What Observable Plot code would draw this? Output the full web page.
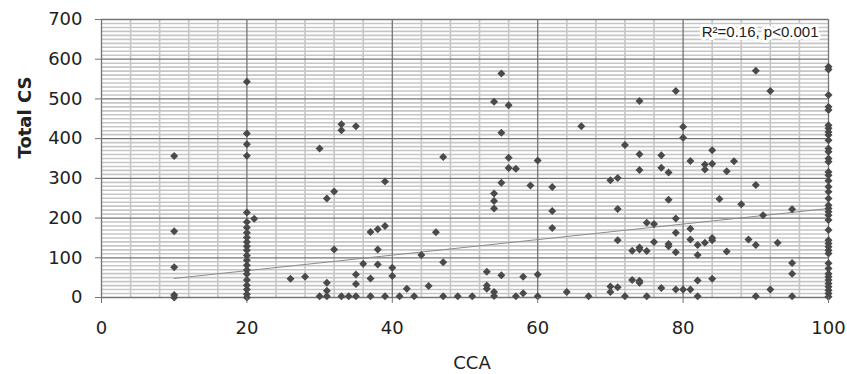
<!DOCTYPE html>
<html><head><meta charset="utf-8">
<script src="https://cdn.jsdelivr.net/npm/d3@7"></script>
<script src="https://cdn.jsdelivr.net/npm/@observablehq/plot@0.6"></script>
<style>
html,body{margin:0;padding:0;background:#fff;}
</style>
</head><body><div id="chart"></div>
<script>
// CCA levels and the Total CS values observed at each level
const ccaLevels = [10, 20, 21, 26, 28, 30, 31, 32, 33, 34, 35, 36, 37, 38, 39, 40, 41, 42, 43, 44, 45, 46, 47, 49, 51, 53, 54, 55, 56, 57, 58, 59, 60, 62, 64, 66, 67, 70, 71, 72, 73, 74, 75, 76, 77, 78, 79, 80, 81, 82, 83, 84, 85, 86, 87, 88, 89, 90, 91, 92, 93, 95, 100];
const totalCSByLevel = [
  [356, 167, 76, 6, 0],
  [543, 413, 386, 357, 214, 190, 176, 163, 151, 140, 129, 119, 106, 94, 81, 69, 59, 44, 31, 20, 8, 0],
  [198],
  [47],
  [52],
  [375, 3],
  [249, 37, 17, 3],
  [267, 121],
  [436, 421, 3],
  [3],
  [431, 58, 34, 3],
  [85],
  [165, 48, 3],
  [172, 121, 83],
  [180, 292, 3],
  [75, 54],
  [3],
  [22],
  [3],
  [107],
  [29],
  [164],
  [354, 89, 3],
  [3],
  [3],
  [65, 30, 22],
  [493, 262, 243, 224, 14, 4],
  [564, 415, 289, 56],
  [484, 352, 326],
  [324, 3],
  [52, 11],
  [282],
  [345, 58, 3],
  [278, 218, 175],
  [14],
  [431],
  [3],
  [295, 28, 14],
  [301, 223, 144, 26],
  [384, 3],
  [118, 44],
  [495, 361, 321, 126, 121, 42, 37],
  [188, 117, 3],
  [185, 140],
  [358, 327, 24],
  [315, 246, 135, 129],
  [520, 199, 163, 114, 20],
  [430, 402, 20],
  [344, 173, 146, 20],
  [132, 107, 43, 3],
  [335, 322, 138],
  [371, 337, 150, 144, 47],
  [248],
  [318, 116],
  [343],
  [235],
  [146],
  [571, 283, 132, 3],
  [207],
  [520, 20],
  [138],
  [222, 87, 60, 3],
  [581, 574, 510, 480, 472, 434, 426, 417, 409, 396, 375, 367, 350, 342, 316, 308, 294, 279, 266, 249, 232, 224, 216, 207, 195, 170, 144, 136, 128, 119, 111, 86, 73, 60, 52, 44, 35, 27, 18, 10, 2]
];
// fitted trend line end points
const fitCCA = [10, 100];
const fitTotalCS = [48, 224];
// axes
const xTicks = [0, 20, 40, 60, 80, 100];
const yTicks = [0, 100, 200, 300, 400, 500, 600, 700];
const xTitle = "CCA";
const yTitle = "Total CS";
const annotation = "R\u00B2=0.16, p<0.001";

const points = ccaLevels.flatMap((c, i) => totalCSByLevel[i].map(v => ({cca: c, cs: v})));
const fit = fitCCA.map((c, i) => ({cca: c, cs: fitTotalCS[i]}));
const minorX = d3.range(0, 101, 4).filter(v => v % 20 !== 0);
const minorY = d3.range(0, 701, 10).filter(v => v % 100 !== 0);

const chart = Plot.plot({
  width: 847, height: 374,
  marginLeft: 101, marginRight: 19, marginTop: 19, marginBottom: 77,
  style: {fontFamily: "DejaVu Sans", fontSize: "18px", color: "#222", background: "#fff"},
  x: {domain: [0, 100]},
  y: {domain: [0, 700]},
  marks: [
    Plot.ruleX(minorX, {stroke: "#c6c6c6", strokeWidth: 1.6}),
    Plot.ruleY(minorY, {stroke: "#c6c6c6", strokeWidth: 1.6}),
    Plot.ruleX(xTicks, {stroke: "#747474", strokeWidth: 1.3}),
    Plot.ruleY(yTicks, {stroke: "#747474", strokeWidth: 1.3}),
    Plot.line(fit, {x: "cca", y: "cs", stroke: "#8c8c8c", strokeWidth: 1}),
    Plot.dot(points, {x: "cca", y: "cs", symbol: "diamond2", r: 3.6, fill: "#4a4a4a", stroke: "none"}),
    Plot.text([annotation], {frameAnchor: "top-right", dx: -10, dy: 13, lineAnchor: "middle", textAnchor: "end",
      fontFamily: "Liberation Sans", fontSize: 15, fill: "#222", stroke: "white", strokeWidth: 6, paintOrder: "stroke"}),
    Plot.axisX(xTicks, {tickSize: 6, stroke: "#747474", tickFormat: () => "", label: null}),
    Plot.axisY(yTicks, {tickSize: 6, stroke: "#747474", tickFormat: () => "", label: null}),
    Plot.text(xTicks, {x: d => d, frameAnchor: "bottom", dy: 31, lineAnchor: "middle", textAnchor: "middle",
      fontFamily: "DejaVu Sans", fontSize: 18, fill: "#222"}),
    Plot.text(yTicks, {y: d => d, frameAnchor: "left", dx: -19, lineAnchor: "middle", textAnchor: "end",
      fontFamily: "DejaVu Sans", fontSize: 18, fill: "#222"}),
    Plot.text([xTitle], {frameAnchor: "bottom", dx: 7, dy: 66, lineAnchor: "middle", fill: "#222", fontSize: 18}),
    Plot.text([yTitle], {frameAnchor: "left", dx: -76, rotate: -90, lineAnchor: "middle", fill: "#222", fontSize: 18, fontWeight: "bold"})
  ]
});
document.getElementById("chart").appendChild(chart);
</script>
</body></html>
